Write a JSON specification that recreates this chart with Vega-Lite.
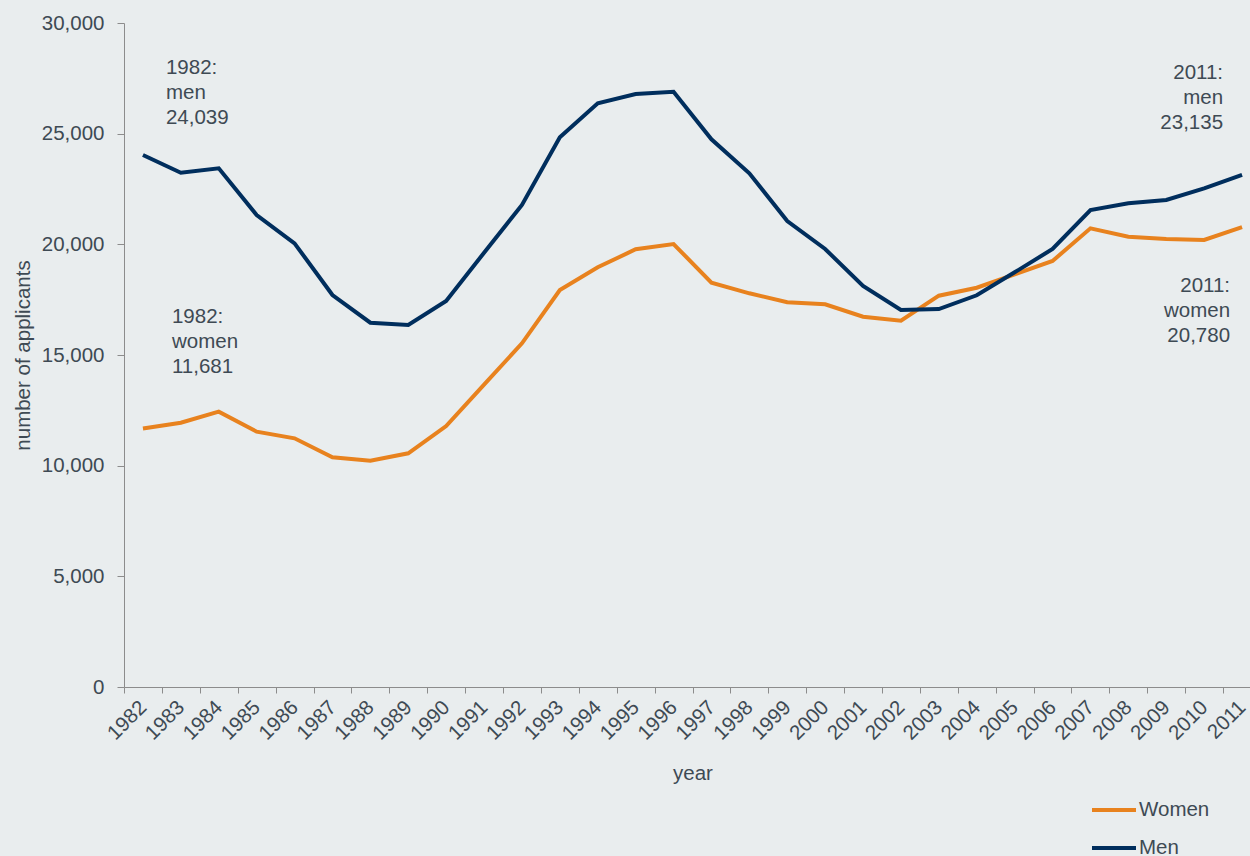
{
  "$schema": "https://vega.github.io/schema/vega-lite/v6.json",
  "autosize": {"type": "none"},
  "padding": {"left": 124, "top": 23, "right": 0, "bottom": 169},
  "width": 1137,
  "height": 664,
  "background": "#E9EDEE",
  "config": {
    "view": {"stroke": null},
    "font": "Liberation Sans",
    "axis": {"labelColor": "#3E4A54", "titleColor": "#3E4A54", "domainColor": "#8C8C8C", "tickColor": "#8C8C8C", "labelFont": "Liberation Sans", "titleFont": "Liberation Sans", "titleFontWeight": "normal", "grid": false},
    "legend": {"labelFont": "Liberation Sans", "labelColor": "#3E4A54"}
  },
  "datasets": {
    "series": [
      {"year": "1982", "sex": "Women", "applicants": 11681}, {"year": "1982", "sex": "Men", "applicants": 24039},
      {"year": "1983", "sex": "Women", "applicants": 11942}, {"year": "1983", "sex": "Men", "applicants": 23236},
      {"year": "1984", "sex": "Women", "applicants": 12439}, {"year": "1984", "sex": "Men", "applicants": 23435},
      {"year": "1985", "sex": "Women", "applicants": 11536}, {"year": "1985", "sex": "Men", "applicants": 21325},
      {"year": "1986", "sex": "Women", "applicants": 11235}, {"year": "1986", "sex": "Men", "applicants": 20046},
      {"year": "1987", "sex": "Women", "applicants": 10376}, {"year": "1987", "sex": "Men", "applicants": 17711},
      {"year": "1988", "sex": "Women", "applicants": 10226}, {"year": "1988", "sex": "Men", "applicants": 16459},
      {"year": "1989", "sex": "Women", "applicants": 10557}, {"year": "1989", "sex": "Men", "applicants": 16355},
      {"year": "1990", "sex": "Women", "applicants": 11792}, {"year": "1990", "sex": "Men", "applicants": 17439},
      {"year": "1991", "sex": "Women", "applicants": 13660}, {"year": "1991", "sex": "Men", "applicants": 19620},
      {"year": "1992", "sex": "Women", "applicants": 15528}, {"year": "1992", "sex": "Men", "applicants": 21777},
      {"year": "1993", "sex": "Women", "applicants": 17936}, {"year": "1993", "sex": "Men", "applicants": 24835},
      {"year": "1994", "sex": "Women", "applicants": 18962}, {"year": "1994", "sex": "Men", "applicants": 26371},
      {"year": "1995", "sex": "Women", "applicants": 19775}, {"year": "1995", "sex": "Men", "applicants": 26792},
      {"year": "1996", "sex": "Women", "applicants": 20015}, {"year": "1996", "sex": "Men", "applicants": 26896},
      {"year": "1997", "sex": "Women", "applicants": 18267}, {"year": "1997", "sex": "Men", "applicants": 24745},
      {"year": "1998", "sex": "Women", "applicants": 17787}, {"year": "1998", "sex": "Men", "applicants": 23209},
      {"year": "1999", "sex": "Women", "applicants": 17381}, {"year": "1999", "sex": "Men", "applicants": 21054},
      {"year": "2000", "sex": "Women", "applicants": 17290}, {"year": "2000", "sex": "Men", "applicants": 19789},
      {"year": "2001", "sex": "Women", "applicants": 16730}, {"year": "2001", "sex": "Men", "applicants": 18117},
      {"year": "2002", "sex": "Women", "applicants": 16550}, {"year": "2002", "sex": "Men", "applicants": 17033},
      {"year": "2003", "sex": "Women", "applicants": 17679}, {"year": "2003", "sex": "Men", "applicants": 17078},
      {"year": "2004", "sex": "Women", "applicants": 18040}, {"year": "2004", "sex": "Men", "applicants": 17697},
      {"year": "2005", "sex": "Women", "applicants": 18646}, {"year": "2005", "sex": "Men", "applicants": 18736},
      {"year": "2006", "sex": "Women", "applicants": 19247}, {"year": "2006", "sex": "Men", "applicants": 19789},
      {"year": "2007", "sex": "Women", "applicants": 20724}, {"year": "2007", "sex": "Men", "applicants": 21551},
      {"year": "2008", "sex": "Women", "applicants": 20345}, {"year": "2008", "sex": "Men", "applicants": 21853},
      {"year": "2009", "sex": "Women", "applicants": 20241}, {"year": "2009", "sex": "Men", "applicants": 22003},
      {"year": "2010", "sex": "Women", "applicants": 20195}, {"year": "2010", "sex": "Men", "applicants": 22531},
      {"year": "2011", "sex": "Women", "applicants": 20780}, {"year": "2011", "sex": "Men", "applicants": 23135}
    ],
    "notes": [
      {"id": "m1982", "year": "1982", "pos": 27700, "label": "1982:\nmen\n24,039"},
      {"id": "w1982", "year": "1982", "pos": 16430, "label": "1982:\nwomen\n11,681"},
      {"id": "m2011", "year": "2011", "pos": 27450, "label": "2011:\nmen\n23,135"},
      {"id": "w2011", "year": "2011", "pos": 17860, "label": "2011:\nwomen\n20,780"}
    ]
  },
  "encoding": {
    "x": {
      "field": "year", "type": "ordinal",
      "scale": {"type": "band", "paddingInner": 0, "paddingOuter": 0},
      "axis": {"title": "year", "titleFontSize": 20.5, "titlePadding": 20, "labelFontSize": 20.5, "labelAngle": -45, "labelAlign": "right", "labelBaseline": "middle", "labelPadding": 11, "tickBand": "extent", "tickSize": 6, "labelOverlap": false}
    }
  },
  "layer": [
    {
      "data": {"name": "series"},
      "mark": {"type": "line", "strokeWidth": 4},
      "encoding": {
        "y": {
          "field": "applicants", "type": "quantitative",
          "scale": {"domain": [0, 30000], "nice": false},
          "axis": {"title": "number of applicants", "titleFontSize": 20.5, "titlePadding": 8, "labelFontSize": 20.5, "format": ",.0f", "values": [0, 5000, 10000, 15000, 20000, 25000, 30000], "tickSize": 7, "labelPadding": 13}
        },
        "color": {
          "field": "sex", "type": "nominal",
          "scale": {"domain": ["Women", "Men"], "range": ["#E8821E", "#002E5D"]},
          "legend": {"title": null, "orient": "none", "legendX": 966, "legendY": 763, "symbolType": "stroke", "symbolSize": 1936, "symbolStrokeWidth": 4, "labelFontSize": 20.5, "labelOffset": 1, "rowPadding": 3}
        }
      }
    },
    {
      "data": {"name": "notes"},
      "transform": [{"filter": "datum.id == 'm1982'"}],
      "mark": {"type": "text", "align": "left", "baseline": "alphabetic", "dx": 23, "fontSize": 20.5, "lineHeight": 25, "lineBreak": "\n", "color": "#3E4A54", "font": "Liberation Sans"},
      "encoding": {"y": {"field": "pos", "type": "quantitative"}, "text": {"field": "label"}}
    },
    {
      "data": {"name": "notes"},
      "transform": [{"filter": "datum.id == 'w1982'"}],
      "mark": {"type": "text", "align": "left", "baseline": "alphabetic", "dx": 29, "fontSize": 20.5, "lineHeight": 25, "lineBreak": "\n", "color": "#3E4A54", "font": "Liberation Sans"},
      "encoding": {"y": {"field": "pos", "type": "quantitative"}, "text": {"field": "label"}}
    },
    {
      "data": {"name": "notes"},
      "transform": [{"filter": "datum.id == 'm2011'"}],
      "mark": {"type": "text", "align": "right", "baseline": "alphabetic", "dx": -19, "fontSize": 20.5, "lineHeight": 25, "lineBreak": "\n", "color": "#3E4A54", "font": "Liberation Sans"},
      "encoding": {"y": {"field": "pos", "type": "quantitative"}, "text": {"field": "label"}}
    },
    {
      "data": {"name": "notes"},
      "transform": [{"filter": "datum.id == 'w2011'"}],
      "mark": {"type": "text", "align": "right", "baseline": "alphabetic", "dx": -12, "fontSize": 20.5, "lineHeight": 25, "lineBreak": "\n", "color": "#3E4A54", "font": "Liberation Sans"},
      "encoding": {"y": {"field": "pos", "type": "quantitative"}, "text": {"field": "label"}}
    }
  ]
}
